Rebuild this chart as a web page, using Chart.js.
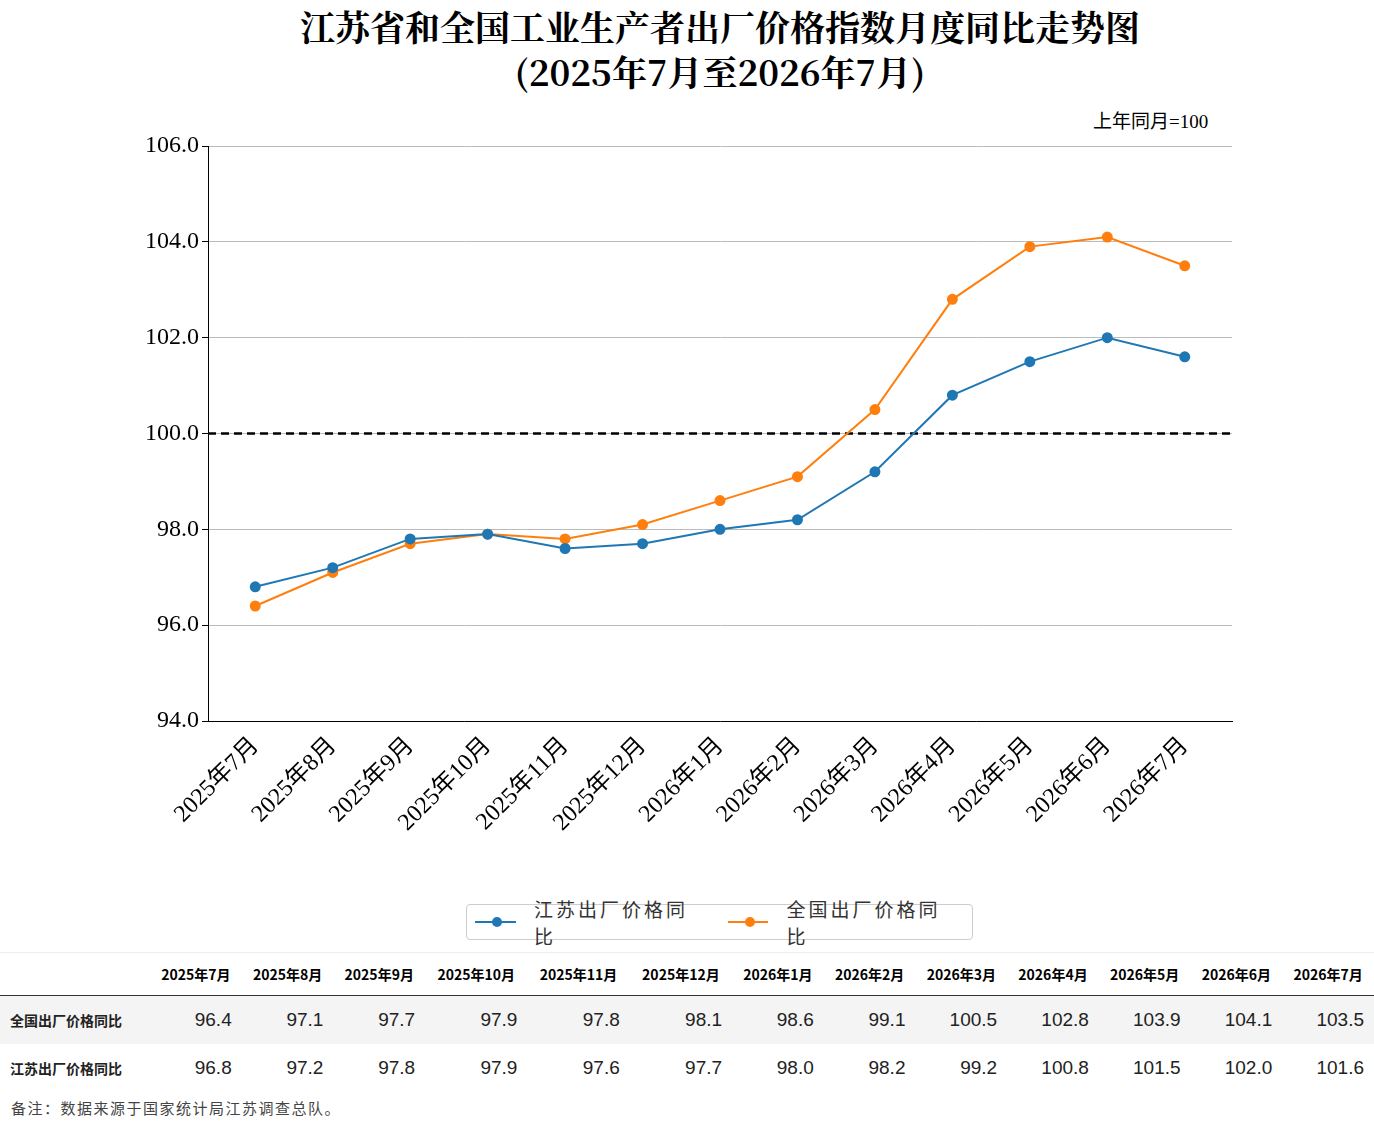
<!DOCTYPE html>
<html><head><meta charset="utf-8">
<script src="https://cdn.jsdelivr.net/npm/chart.js@4/dist/chart.umd.min.js"></script>
<style>
body{margin:0;width:1374px;height:1137px;background:#fff;position:relative;font-family:"Noto Sans CJK SC",sans-serif;overflow:hidden}
#title{position:absolute;top:4px;left:0;width:1440px;text-align:center;font-family:"Noto Serif CJK SC","Liberation Serif","Noto Sans CJK SC",serif;font-weight:bold;font-size:35px;line-height:45px;color:#000}
#unit{position:absolute;top:106px;left:1093px;font-family:"Liberation Serif","Noto Sans CJK SC",serif;font-size:19px}
#wrap{position:absolute;top:0;left:0;width:1374px;height:890px}
#legend{position:absolute;top:904px;left:466px;width:507px;height:36px;border:1px solid #ccc;border-radius:4px;box-sizing:border-box;display:flex;align-items:center;font-size:19px;color:#333}
.li{display:flex;align-items:center;margin-left:8px;margin-right:22px;letter-spacing:3px}
.sw{position:relative;width:44px;height:2px;margin-right:18px}
.sw i{position:absolute;left:17px;top:-4px;width:10px;height:10px;border-radius:50%}
table{position:absolute;top:952px;left:0;width:1374px;border-collapse:collapse}
th{font-size:14px;font-weight:bold;height:40px;border-bottom:1px solid #333;border-top:1px solid #eee}
td{height:46px;font-family:"Liberation Sans",Arial,sans-serif;font-size:19px;text-align:right;padding-right:10px;color:#222}
td.h{text-align:left;font-family:"Noto Sans CJK SC";font-weight:bold;font-size:14px;padding-left:10px;width:130px}
tr.odd td{background:#f4f4f4}
#note{position:absolute;top:1097px;left:11px;font-size:15px;color:#444;letter-spacing:1.5px}
</style></head><body>
<div id="title">江苏省和全国工业生产者出厂价格指数月度同比走势图<br>(2025年7月至2026年7月)</div>
<div id="unit">上年同月=100</div>
<div id="wrap"><canvas id="c"></canvas></div>
<div id="legend">
<div class="li"><div class="sw" style="background:#1f77b4"><i style="background:#1f77b4"></i></div>江苏出厂价格同比</div>
<div class="li"><div class="sw" style="background:#ff7f0e"><i style="background:#ff7f0e"></i></div>全国出厂价格同比</div>
</div>
<table id="tbl"></table>
<div id="note">备注：数据来源于国家统计局江苏调查总队。</div>
<script>
const months = ['2025年7月','2025年8月','2025年9月','2025年10月','2025年11月','2025年12月','2026年1月','2026年2月','2026年3月','2026年4月','2026年5月','2026年6月','2026年7月'];
const jiangsu = [96.8, 97.2, 97.8, 97.9, 97.6, 97.7, 98.0, 98.2, 99.2, 100.8, 101.5, 102.0, 101.6];
const national = [96.4, 97.1, 97.7, 97.9, 97.8, 98.1, 98.6, 99.1, 100.5, 102.8, 103.9, 104.1, 103.5];
const yTicks = [94, 96, 98, 100, 102, 104, 106];
const baseline = 100;

// table
let html = '<tr><th></th>' + months.map(m => '<th>' + m + '</th>').join('') + '</tr>';
html += '<tr class="odd"><td class="h">全国出厂价格同比</td>' + national.map(v => '<td>' + v.toFixed(1) + '</td>').join('') + '</tr>';
html += '<tr><td class="h">江苏出厂价格同比</td>' + jiangsu.map(v => '<td>' + v.toFixed(1) + '</td>').join('') + '</tr>';
document.getElementById('tbl').innerHTML = html;

const pts = arr => arr.map((v, i) => ({x: i, y: v}));
const serif = '"Liberation Serif","Noto Sans CJK SC",serif';
const xmin = -0.61, xmax = months.length - 1 + 0.61;

new Chart(document.getElementById('c'), {
    type: 'line',
    data: {
        datasets: [{
            label: '江苏出厂价格同比',
            data: pts(jiangsu),
            borderColor: '#1f77b4', backgroundColor: '#1f77b4',
            borderWidth: 2, pointRadius: 4.5, tension: 0
        }, {
            label: '全国出厂价格同比',
            data: pts(national),
            borderColor: '#ff7f0e', backgroundColor: '#ff7f0e',
            borderWidth: 2, pointRadius: 4.5, tension: 0
        }, {
            label: 'base',
            data: [{x: xmin, y: baseline}, {x: xmax, y: baseline}],
            borderColor: '#000', borderWidth: 2.5, borderDash: [8, 5], pointRadius: 0
        }]
    },
    options: {
        responsive: true, maintainAspectRatio: false, animation: false,
        layout: {padding: {left: 0, right: 142, top: 146, bottom: 0}},
        plugins: {legend: {display: false}, tooltip: {enabled: false}},
        scales: {
            x: {
                type: 'linear', min: xmin, max: xmax,
                afterBuildTicks: s => { s.ticks = months.map((m, i) => ({value: i})); },
                afterFit: s => { s.height = 169; },
                grid: {display: false, drawTicks: true},
                border: {color: '#000'},
                ticks: {
                    autoSkip: false, maxRotation: 45, minRotation: 45,
                    color: '#000', font: {family: serif, size: 24},
                    callback: v => months[v]
                }
            },
            y: {
                min: 94, max: 106,
                afterBuildTicks: s => { s.ticks = yTicks.map(v => ({value: v})); },
                afterFit: s => { s.width = 208; },
                grid: {color: '#bbb', tickColor: '#000', tickLength: 6},
                border: {color: '#000'},
                ticks: {color: '#000', font: {family: serif, size: 24}, callback: v => v.toFixed(1)}
            }
        }
    }
});
</script>
</body></html>
